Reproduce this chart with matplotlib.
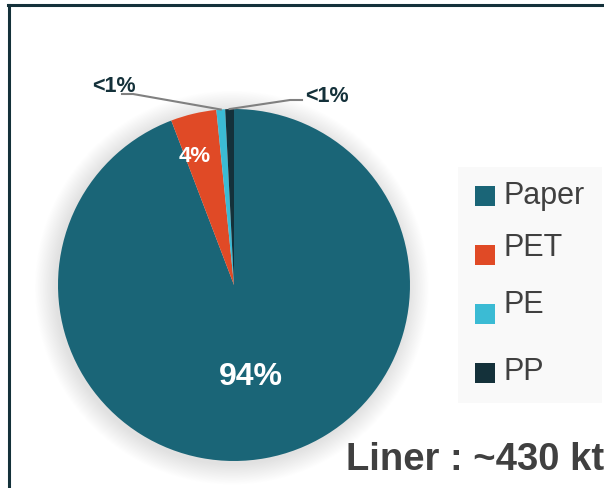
import matplotlib
matplotlib.use("Agg")
import matplotlib.pyplot as plt
from matplotlib.patches import Circle, Rectangle
from matplotlib.lines import Line2D
import numpy as np

categories = ["Paper", "PET", "PE", "PP"]
values = [94.2, 4.2, 0.8, 0.8]
pct_labels = ["94%", "4%", "<1%", "<1%"]
colors = ["#1a6577", "#e04a26", "#3bbbd4", "#14313a"]
title = "Liner : ~430 kt"

W, H = 604, 488
fig = plt.figure(figsize=(W / 100, H / 100), dpi=100)
fig.patch.set_facecolor("white")
font = ["Liberation Sans", "DejaVu Sans"]

# frame lines (top and left)
fig.add_artist(Line2D([8 / W, 1.0], [1 - 5 / H, 1 - 5 / H], color="#14313a", lw=2.2,
                      transform=fig.transFigure))
fig.add_artist(Line2D([9 / W, 9 / W], [0, 1 - 5 / H], color="#14313a", lw=2.2,
                      transform=fig.transFigure))

# pie axes: center (234,285), radius 176 in pixels
cx, cy, r = 234, 285, 176
ax = fig.add_axes([(cx - r) / W, (H - cy - r) / H, 2 * r / W, 2 * r / H])

# soft glow shadow
for i in range(30):
    rr = 1.0 + 0.004 * (i + 1)
    ax.add_patch(Circle((-0.012, -0.015), rr, facecolor="#000000", alpha=0.0055,
                        edgecolor="none", zorder=0, clip_on=False))

wedges, _ = ax.pie(values, colors=colors, startangle=90, counterclock=False,
                   wedgeprops=dict(linewidth=0), radius=1.0)
for w in wedges:
    w.set_zorder(2)
ax.set_xlim(-1, 1)
ax.set_ylim(-1, 1)
ax.set_aspect("equal")
ax.axis("off")

def mid(w):
    return np.deg2rad((w.theta1 + w.theta2) / 2)

def px(x, y):
    return ((x - cx) / r, (cy - y) / r)

# inside labels
a = mid(wedges[0])
ax.text(0.53 * np.cos(a), 0.53 * np.sin(a), pct_labels[0], color="white",
        fontsize=23, fontweight="bold", ha="center", va="center", family=font, zorder=5)
tx, ty = px(195, 157)
ax.text(tx, ty, pct_labels[1], color="white",
        fontsize=16, fontweight="bold", ha="center", va="center", family=font, zorder=5)

# leader lines for small slices
a = mid(wedges[2])
p0 = (np.cos(a) * 1.0, np.sin(a) * 1.0)
p1 = px(133, 94)
p2 = px(122, 94)
ax.add_line(Line2D([p0[0], p1[0], p2[0]], [p0[1], p1[1], p2[1]], color="#808080",
                   lw=1.5, zorder=3, clip_on=False))
tx, ty = px(114, 86)
ax.text(tx, ty, pct_labels[2], color="#14313a", fontsize=15.5, fontweight="bold",
        ha="center", va="center", family=font, clip_on=False)

a = mid(wedges[3])
p0 = (np.cos(a) * 1.0, np.sin(a) * 1.0)
p1 = px(290, 100)
p2 = px(302, 100)
ax.add_line(Line2D([p0[0], p1[0], p2[0]], [p0[1], p1[1], p2[1]], color="#808080",
                   lw=1.5, zorder=3, clip_on=False))
tx, ty = px(327, 96)
ax.text(tx, ty, pct_labels[3], color="#14313a", fontsize=15.5, fontweight="bold",
        ha="center", va="center", family=font, clip_on=False)

# legend box
fig.add_artist(Rectangle((458 / W, 1 - 403 / H), (602 - 458) / W, (403 - 167) / H,
                         facecolor="#f9f9f9", edgecolor="none", transform=fig.transFigure))
text_y = [196, 248, 305, 372]
mark_y = [196, 255, 314, 373]
for name, col, ty_, my in zip(categories, colors, text_y, mark_y):
    fig.add_artist(Rectangle((475 / W, 1 - (my + 10) / H), 20 / W, 20 / H,
                             facecolor=col, edgecolor="none", transform=fig.transFigure))
    fig.text(503 / W, 1 - ty_ / H, name, fontsize=22, color="#404040",
             ha="left", va="center", family=font)

fig.text(346 / W, 1 - 460 / H, title, fontsize=27.5, fontweight="bold",
         color="#404040", ha="left", va="center", family=font)

fig.savefig("out.png", dpi=100)
